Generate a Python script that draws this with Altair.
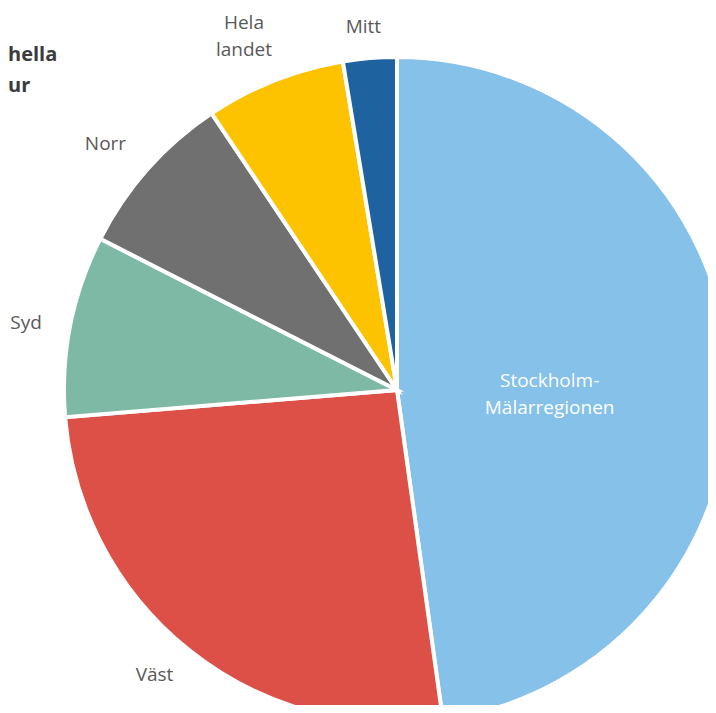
import altair as alt
import pandas as pd

regions = ["Stockholm-\nMälarregionen", "Väst", "Syd", "Norr", "Hela\nlandet", "Mitt"]
shares = [47.8, 25.9, 8.8, 8.1, 6.8, 2.6]
colors = ["#85C1E9", "#DC5047", "#7DB9A4", "#707070", "#FDC300", "#1F62A0"]

df = pd.DataFrame({
    "region": regions,
    "share": shares,
    "idx": list(range(len(regions))),
})
for r in regions:
    df["lab_" + str(regions.index(r))] = [x if x == r else "" for x in regions]

CX, CY, R = 389, 382, 333

base = alt.Chart(df).encode(
    theta=alt.Theta("share:Q", stack=True),
    order=alt.Order("idx:Q", sort="ascending"),
    x=alt.value(CX),
    y=alt.value(CY),
)

arcs = base.mark_arc(outerRadius=R, stroke="white", strokeWidth=4).encode(
    color=alt.Color("region:N", scale=alt.Scale(domain=regions, range=colors), legend=None)
)

# per-label placement: (radius, dx, dy, colour)
place = [
    (160, -7, 2, "white"),
    (375, -8, -8, "#595959"),
    (375, -3, 6, "#595959"),
    (375, -11, 3, "#595959"),
    (375, -15, -18, "#595959"),
    (375, -3, 11, "#595959"),
]
labels = []
for i, (rad, dx, dy, col) in enumerate(place):
    labels.append(
        base.mark_text(radius=rad, dx=dx, dy=dy, font="Open Sans", fontSize=19,
                       color=col, lineBreak="\n", lineHeight=27)
        .encode(text=f"lab_{i}:N")
    )

title_df = pd.DataFrame({"t": ["hella", "ur"], "ty": [47, 78]})
title = alt.Chart(title_df).mark_text(
    font="Open Sans", fontSize=20, fontWeight="bold", color="#3b3b3b", align="left"
).encode(x=alt.value(0), y=alt.Y("ty:Q", scale=None), text="t:N")

chart = alt.layer(arcs, *labels, title).properties(
    width=700, height=697, autosize=alt.AutoSizeParams(type="none"), padding=0
).configure_view(stroke=None)

chart.save("out.html", embed_options={"renderer": "svg", "actions": False})
